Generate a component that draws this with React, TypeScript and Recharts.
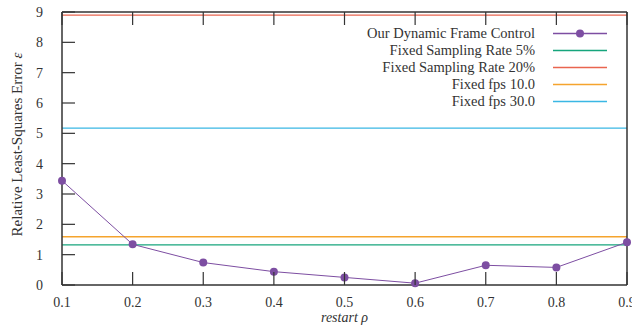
import { LineChart, Line, XAxis, YAxis } from "recharts";

// restart values along x
const restart = [0.1, 0.2, 0.3, 0.4, 0.5, 0.6, 0.7, 0.8, 0.9];
// error of the dynamic frame control, one per restart value
const dynamicError = [3.44, 1.34, 0.74, 0.44, 0.25, 0.06, 0.65, 0.58, 1.41];
// constant baselines
const fixedRate5 = 1.32;
const fixedRate20 = 8.9;
const fixedFps10 = 1.59;
const fixedFps30 = 5.17;

const xTicks = [0.1, 0.2, 0.3, 0.4, 0.5, 0.6, 0.7, 0.8, 0.9];
const yTicks = [0, 1, 2, 3, 4, 5, 6, 7, 8, 9];

const series = [
  { key: "dynamic", name: "Our Dynamic Frame Control", color: "#7d4ea2", dots: true },
  { key: "rate5", name: "Fixed Sampling Rate 5%", color: "#16a57c", dots: false },
  { key: "rate20", name: "Fixed Sampling Rate 20%", color: "#e9654f", dots: false },
  { key: "fps10", name: "Fixed fps 10.0", color: "#f5a42d", dots: false },
  { key: "fps30", name: "Fixed fps 30.0", color: "#3ab7e4", dots: false },
];

const data = restart.map((r, i) => ({
  restart: r,
  dynamic: dynamicError[i],
  rate5: fixedRate5,
  rate20: fixedRate20,
  fps10: fixedFps10,
  fps30: fixedFps30,
}));

const FONT = "'Liberation Serif', 'Times New Roman', serif";
const AXIS = "#333";
const TICK = 13;

function BottomTick({ x, y, payload }: any) {
  return (
    <g>
      <line x1={x} y1={y} x2={x} y2={y - TICK} stroke={AXIS} strokeWidth={1.2} />
      <text x={x} y={y + 22} textAnchor="middle" fontSize={14} fontFamily={FONT} fill="#333">
        {payload.value}
      </text>
    </g>
  );
}

function TopTick({ x, y }: any) {
  return <line x1={x} y1={y} x2={x} y2={y + TICK} stroke={AXIS} strokeWidth={1.2} />;
}

function LeftTick({ x, y, payload }: any) {
  return (
    <g>
      <line x1={x} y1={y} x2={x + TICK} y2={y} stroke={AXIS} strokeWidth={1.2} />
      <text x={x - 19} y={y + 5} textAnchor="end" fontSize={14} fontFamily={FONT} fill="#333">
        {payload.value}
      </text>
    </g>
  );
}

function RightTick({ x, y }: any) {
  return <line x1={x} y1={y} x2={x - TICK} y2={y} stroke={AXIS} strokeWidth={1.2} />;
}

function YLabel({ viewBox }: any) {
  const cx = viewBox.x + 17;
  const cy = viewBox.y + viewBox.height / 2 - 4;
  return (
    <text
      x={cx}
      y={cy}
      transform={`rotate(-90, ${cx}, ${cy})`}
      textAnchor="middle"
      dominantBaseline="central"
      fontSize={15}
      fontFamily={FONT}
      fill="#333"
    >
      Relative Least-Squares Error <tspan fontStyle="italic">ε</tspan>
    </text>
  );
}

function XLabel({ viewBox }: any) {
  return (
    <text
      x={viewBox.x + viewBox.width / 2}
      y={viewBox.y + 37}
      textAnchor="middle"
      fontSize={14}
      fontFamily={FONT}
      fontStyle="italic"
      fill="#333"
    >
      restart ρ
    </text>
  );
}

function LegendBox() {
  return (
    <div style={{ position: "absolute", top: 25, left: 0, fontFamily: FONT, fontSize: 14.5, color: "#333" }}>
      {series.map((s) => (
        <div key={s.key} style={{ display: "flex", alignItems: "center", height: 17 }}>
          <span style={{ width: 535, textAlign: "right", whiteSpace: "nowrap" }}>{s.name}</span>
          <svg width={56} height={17} style={{ marginLeft: 18 }}>
            <line x1={0} y1={8.5} x2={54} y2={8.5} stroke={s.color} strokeWidth={1.3} />
            {s.dots && <circle cx={27} cy={8.5} r={4} fill={s.color} />}
          </svg>
        </div>
      ))}
    </div>
  );
}

export default function App() {
  return (
    <div style={{ position: "absolute", left: 0, top: 0, width: 632, height: 333, background: "#fff" }}>
      <LineChart width={632} height={333} data={data} margin={{ top: 0, right: 0, bottom: 0, left: 0 }}>
        <XAxis
          dataKey="restart"
          type="number"
          domain={[0.1, 0.9]}
          ticks={xTicks}
          height={48}
          tickSize={0}
          tickMargin={0}
          tickLine={false}
          tick={<BottomTick />}
          axisLine={{ stroke: AXIS, strokeWidth: 1.5 }}
          label={<XLabel />}
          interval={0}
        />
        <XAxis
          xAxisId="top"
          orientation="top"
          dataKey="restart"
          type="number"
          domain={[0.1, 0.9]}
          ticks={xTicks}
          height={12}
          tickSize={0}
          tickMargin={0}
          tickLine={false}
          tick={<TopTick />}
          axisLine={{ stroke: AXIS, strokeWidth: 1.5 }}
          interval={0}
        />
        <YAxis
          type="number"
          domain={[0, 9]}
          ticks={yTicks}
          width={62}
          tickSize={0}
          tickMargin={0}
          tickLine={false}
          tick={<LeftTick />}
          axisLine={{ stroke: AXIS, strokeWidth: 1.5 }}
          label={<YLabel />}
          interval={0}
        />
        <YAxis
          yAxisId="right"
          orientation="right"
          type="number"
          domain={[0, 9]}
          ticks={yTicks}
          width={5}
          tickSize={0}
          tickMargin={0}
          tickLine={false}
          tick={<RightTick />}
          axisLine={{ stroke: AXIS, strokeWidth: 1.5 }}
          interval={0}
        />
        {series
          .slice()
          .reverse()
          .map((s) => (
            <Line
              key={s.key}
              dataKey={s.key}
              name={s.name}
              type="linear"
              stroke={s.color}
              strokeWidth={s.dots ? 1 : 1.3}
              dot={s.dots ? { r: 4, fill: s.color, stroke: "none" } : false}
              activeDot={false}
              isAnimationActive={false}
            />
          ))}
      </LineChart>
      <LegendBox />
    </div>
  );
}
